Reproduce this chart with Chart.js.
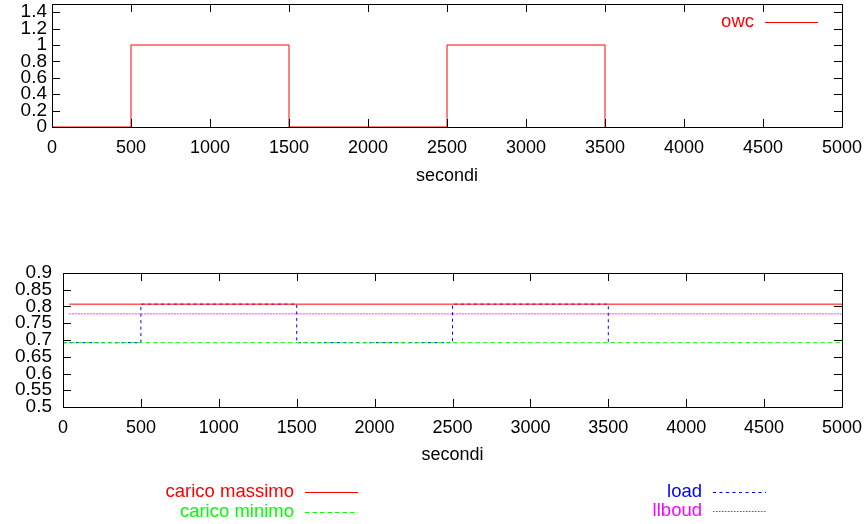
<!DOCTYPE html>
<html>
<head>
<meta charset="utf-8">
<script src="https://cdn.jsdelivr.net/npm/chart.js@4.4.0/dist/chart.umd.min.js"></script>
<style>
  body { margin: 0; background: #fff; }
  #box1 { position: absolute; left: 0; top: 0; width: 866px; height: 200px; }
  #box2 { position: absolute; left: 0; top: 200px; width: 866px; height: 324px; }
</style>
</head>
<body>
<div id="box1"><canvas id="chartOwc" width="866" height="200"></canvas></div>
<div id="box2"><canvas id="chartCarico" width="866" height="324"></canvas></div>
<script>
// Dati
var tempoOwc = [0, 500, 1500, 2500, 3500];
var valoriOwc = [0, 1, 0, 1, 0];

var tempoLoad = [0, 500, 1500, 2500, 3500];
var valoriLoad = [0.692, 0.807, 0.692, 0.807, 0.692];

var tempoMassimo = [40, 5000];
var caricoMassimo = [0.807, 0.807];
var tempoMinimo = [0, 5000];
var caricoMinimo = [0.692, 0.692];
var tempoLlboud = [40, 5000];
var valoriLlboud = [0.778, 0.778];

var ticksSecondi = [0, 500, 1000, 1500, 2000, 2500, 3000, 3500, 4000, 4500, 5000];
var ticksOwc = [0, 0.2, 0.4, 0.6, 0.8, 1, 1.2, 1.4];
var ticksCarico = [0.5, 0.55, 0.6, 0.65, 0.7, 0.75, 0.8, 0.85, 0.9];

Chart.defaults.font.family = "'Liberation Sans', Arial, sans-serif";
Chart.defaults.font.size = 18;
Chart.defaults.color = "#000";

function punti(xs, ys) {
  return xs.map(function(x, i) { return { x: x, y: ys[i] }; });
}

function fissaTicks(lista) {
  return function(scale) {
    scale.ticks = lista.map(function(v) { return { value: v }; });
  };
}

function fissaMisura(w, h) {
  return function(scale) {
    if (w) scale.width = w;
    if (h) scale.height = h;
    scale.paddingTop = 0;
    scale.paddingBottom = 0;
    scale.paddingLeft = 0;
    scale.paddingRight = 0;
  };
}

// cornice e tacche verso l'interno, stile gnuplot
var cornice = {
  id: "cornice",
  afterDatasetsDraw: function(chart) {
    var ctx = chart.ctx;
    var a = chart.chartArea;
    var sx = chart.scales.x;
    var sy = chart.scales.y;
    ctx.save();
    ctx.strokeStyle = "#000";
    ctx.lineWidth = 1;
    ctx.beginPath();
    sx.ticks.forEach(function(t) {
      var px = Math.round(sx.getPixelForValue(t.value)) + 0.5;
      ctx.moveTo(px, a.bottom);
      ctx.lineTo(px, a.bottom - 8);
      ctx.moveTo(px, a.top);
      ctx.lineTo(px, a.top + 8);
    });
    sy.ticks.forEach(function(t) {
      var py = Math.round(sy.getPixelForValue(t.value)) + 0.5;
      ctx.moveTo(a.left, py);
      ctx.lineTo(a.left + 8, py);
      ctx.moveTo(a.right, py);
      ctx.lineTo(a.right - 8, py);
    });
    ctx.stroke();
    ctx.strokeRect(Math.round(a.left) + 0.5, Math.round(a.top) + 0.5,
                   Math.round(a.right - a.left), Math.round(a.bottom - a.top));
    ctx.restore();
  }
};

// legenda: testo allineato a destra e campione di linea
var legenda = {
  id: "legenda",
  afterDraw: function(chart, args, opts) {
    var ctx = chart.ctx;
    ctx.save();
    ctx.font = "18.5px 'Liberation Sans', Arial, sans-serif";
    ctx.textAlign = "right";
    ctx.textBaseline = "middle";
    chart.data.datasets.forEach(function(ds, i) {
      var p = opts.posizioni[i];
      ctx.fillStyle = ds.borderColor;
      ctx.fillText(ds.label, p.x, p.y);
      ctx.strokeStyle = ds.borderColor;
      ctx.lineWidth = 1;
      ctx.setLineDash(ds.borderDash || []);
      ctx.beginPath();
      ctx.moveTo(p.x + 11, Math.round(p.y) + 0.5);
      ctx.lineTo(p.x + 64, Math.round(p.y) + 0.5);
      ctx.stroke();
    });
    ctx.restore();
  }
};

function etichetta(v) {
  return String(+Number(v).toFixed(2));
}

var chartOwc = new Chart(document.getElementById("chartOwc"), {
  type: "line",
  data: {
    datasets: [{
      label: "owc",
      data: punti(tempoOwc, valoriOwc),
      borderColor: "#ff0000",
      borderWidth: 1,
      pointRadius: 0,
      stepped: true,
      fill: false,
      clip: false
    }]
  },
  options: {
    responsive: false,
    animation: false,
    layout: { padding: { left: 0, top: 4, right: 24, bottom: 0 } },
    plugins: {
      legend: { display: false },
      tooltip: { enabled: false },
      legenda: { posizioni: [{ x: 754, y: 22 }] }
    },
    scales: {
      x: {
        type: "linear",
        min: 0,
        max: 5000,
        grid: { display: false, drawTicks: false },
        border: { display: false },
        ticks: { padding: 10, maxRotation: 0, autoSkip: false, callback: etichetta },
        title: { display: true, text: "secondi", padding: { top: 0, bottom: 12.8 } },
        afterBuildTicks: fissaTicks(ticksSecondi),
        afterFit: fissaMisura(0, 73)
      },
      y: {
        type: "linear",
        min: 0,
        max: 1.5,
        grid: { display: false, drawTicks: false },
        border: { display: false },
        ticks: { padding: 5, autoSkip: false, font: { size: 19 }, callback: etichetta },
        afterBuildTicks: fissaTicks(ticksOwc),
        afterFit: fissaMisura(52, 0)
      }
    }
  },
  plugins: [cornice, legenda]
});

var chartCarico = new Chart(document.getElementById("chartCarico"), {
  type: "line",
  data: {
    datasets: [{
      label: "carico massimo",
      data: punti(tempoMassimo, caricoMassimo),
      borderColor: "#ff0000",
      borderWidth: 1,
      pointRadius: 0,
      fill: false
    }, {
      label: "carico minimo",
      data: punti(tempoMinimo, caricoMinimo),
      borderColor: "#00ff00",
      borderDash: [4.5, 3],
      borderWidth: 1,
      pointRadius: 0,
      fill: false
    }, {
      label: "load",
      data: punti(tempoLoad, valoriLoad),
      borderColor: "#0000ff",
      borderDash: [3, 3.5],
      borderWidth: 1,
      pointRadius: 0,
      stepped: true,
      fill: false
    }, {
      label: "llboud",
      data: punti(tempoLlboud, valoriLlboud),
      borderColor: "#ff00ff",
      borderDash: [1.5, 1.5],
      borderWidth: 1,
      pointRadius: 0,
      fill: false
    }]
  },
  options: {
    responsive: false,
    animation: false,
    layout: { padding: { left: 0, top: 73, right: 24, bottom: 47 } },
    plugins: {
      legend: { display: false },
      tooltip: { enabled: false },
      legenda: {
        posizioni: [
          { x: 294, y: 291.7 },
          { x: 294, y: 311.7 },
          { x: 702, y: 291.7 },
          { x: 702, y: 311.3 }
        ]
      }
    },
    scales: {
      x: {
        type: "linear",
        min: 0,
        max: 5000,
        grid: { display: false, drawTicks: false },
        border: { display: false },
        ticks: { padding: 10, maxRotation: 0, autoSkip: false, callback: etichetta },
        title: { display: true, text: "secondi", padding: { top: 0, bottom: 10.8 } },
        afterBuildTicks: fissaTicks(ticksSecondi),
        afterFit: fissaMisura(0, 70)
      },
      y: {
        type: "linear",
        min: 0.5,
        max: 0.9,
        grid: { display: false, drawTicks: false },
        border: { display: false },
        ticks: { padding: 11, autoSkip: false, font: { size: 19 }, callback: etichetta },
        afterBuildTicks: fissaTicks(ticksCarico),
        afterFit: fissaMisura(63, 0)
      }
    }
  },
  plugins: [cornice, legenda]
});
</script>
</body>
</html>
